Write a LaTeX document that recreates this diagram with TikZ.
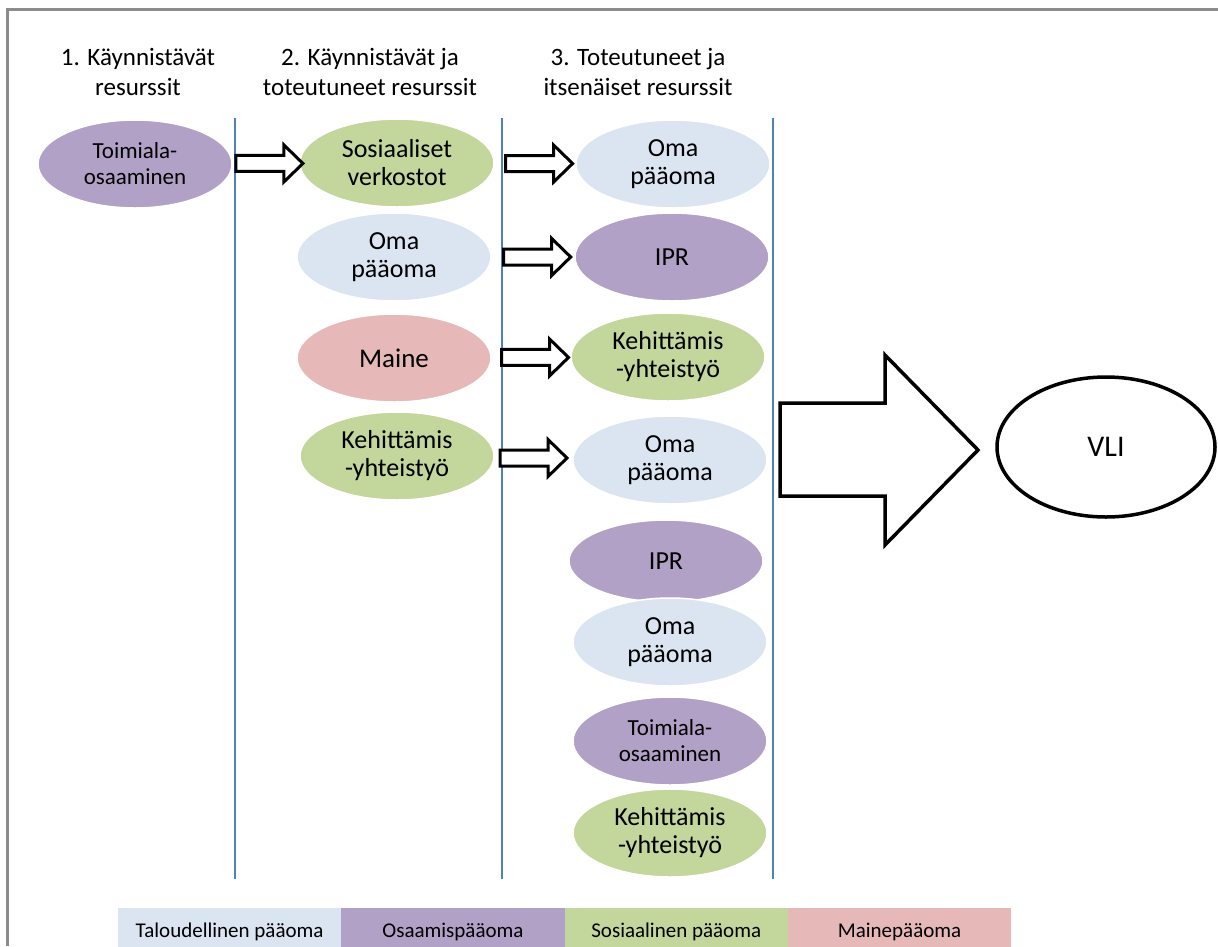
\documentclass[tikz,border=0pt]{standalone}
\usepackage{fontspec}
\setmainfont{Carlito}
\usetikzlibrary{shapes.geometric, positioning, calc}

\definecolor{talblue}{HTML}{DBE5F1}
\definecolor{osapurple}{HTML}{B2A1C7}
\definecolor{sosgreen}{HTML}{C3D69B}
\definecolor{mainered}{HTML}{E6B9B8}
\definecolor{colline}{HTML}{4F81BD}

\begin{document}
\begin{tikzpicture}[x=1pt, y=-1pt,
    resource/.style={ellipse, draw=white, line width=1.5pt, minimum width=194pt, minimum height=88pt, inner sep=0pt, outer sep=0pt, align=center, font=\fontsize{26}{28}\selectfont},
    talres/.style={resource, fill=talblue},
    osares/.style={resource, fill=osapurple},
    sosres/.style={resource, fill=sosgreen},
    maires/.style={resource, fill=mainered},
    header/.style={align=center, font=\fontsize{25}{30}\selectfont},
    legendbox/.style={rectangle, minimum width=223.3pt, minimum height=48pt, inner sep=0pt, outer sep=0pt, font=\fontsize{21}{21}\selectfont},
    hollow/.pic={\draw[line width=3pt, fill=white] (-33.5,-8) -- (14.5,-8) -- (14.5,-18.5) -- (33.5,0) -- (14.5,18.5) -- (14.5,8) -- (-33.5,8) -- cycle;}]

    \useasboundingbox (0,0) rectangle (1218,946);
    \draw[black!45, line width=3pt] (7,946) -- (7,9.5) -- (1218,9.5);

    % column headers
    \node [header] (head1) at (138,72) {1. Käynnistävät\\resurssit};
    \node [header] (head2) at (370,72) {2. Käynnistävät ja\\toteutuneet resurssit};
    \node [header] (head3) at (638,72) {3. Toteutuneet ja\\itsenäiset resurssit};

    % column 1
    \node [osares, font=\fontsize{23}{26}\selectfont] (toim1) at (135,164) {Toimiala-\\osaaminen};

    % column 2
    \node [sosres] (verkostot) at (397,163) {Sosiaaliset\\verkostot};
    \node [talres, below=6pt of verkostot, xshift=-3pt] (oma2) {Oma\\pääoma};
    \node [maires, below=13pt of oma2, font=\fontsize{27}{27}\selectfont] (maine) {Maine};
    \node [sosres, below=10pt of maine, xshift=3pt] (keh2) {Kehittämis\\-yhteistyö};

    % column 3
    \node [talres] (oma3a) at (673,164) {Oma\\pääoma};
    \node [osares, below=5pt of oma3a, xshift=-1pt] (ipr3a) {IPR};
    \node [sosres, below=12pt of ipr3a, xshift=-4pt] (keh3a) {Kehittämis\\-yhteistyö};
    \node [talres, below=15pt of keh3a, xshift=2pt] (oma3b) {Oma\\pääoma};
    \node [osares, below=16pt of oma3b, xshift=-4pt, minimum height=82pt] (ipr3b) {IPR};
    \node [talres, below=-4pt of ipr3b, xshift=4pt] (oma3c) {Oma\\pääoma};
    \node [osares, below=11pt of oma3c, font=\fontsize{23}{26}\selectfont] (toim3) {Toimiala-\\osaaminen};
    \node [sosres, below=4pt of toim3] (keh3b) {Kehittämis\\-yhteistyö};

    % column separators
    \foreach \x in {235,502,773}
        \draw[colline, line width=2.3pt] (\x,118) -- (\x,879);

    % block arrows
    \pic at ($(toim1.east)!.55!(verkostot.west)$) {hollow};
    \pic at ($(verkostot.east)!.55!(oma3a.west)$) {hollow};
    \pic at ($(oma2.east)!.55!(ipr3a.west)$) {hollow};
    \pic at ($(maine.east)!.55!(keh3a.west)$) {hollow};
    \pic at ($(keh2.east)!.5!(oma3b.west)$) {hollow};

    \node [ellipse, draw, line width=3.5pt, minimum width=218pt, minimum height=140pt, font=\fontsize{30}{30}\selectfont] (vli) at (1106,447) {VLI};
    \draw[line width=3.5pt, fill=white] (780,403) -- (885,403) -- (885,355) -- (978,450) -- (885,545) -- (885,496) -- (780,496) -- cycle;

    % legend
    \node [legendbox, fill=talblue, anchor=north west] (legtal) at (118,908) {Taloudellinen pääoma};
    \node [legendbox, fill=osapurple, right=0pt of legtal] (legosa) {Osaamispääoma};
    \node [legendbox, fill=sosgreen, right=0pt of legosa] (legsos) {Sosiaalinen pääoma};
    \node [legendbox, fill=mainered, right=0pt of legsos] (legmai) {Mainepääoma};
\end{tikzpicture}
\end{document}
